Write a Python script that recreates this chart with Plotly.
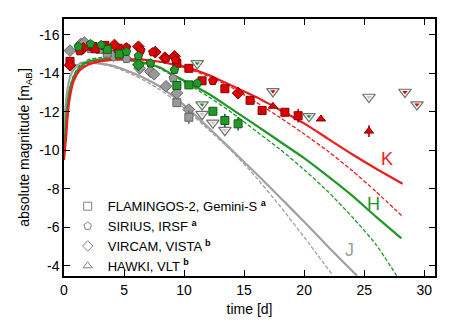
import plotly.graph_objects as go

# ---------------- data ----------------
# model curves (time [d], absolute magnitude)
K_solid_t = [0, 0.15, 0.35, 0.5, 0.8, 1.3, 2, 3, 4, 5, 6, 7, 8, 9, 10, 12, 14, 16, 18, 20, 22, 24, 26, 28.2]
K_solid_m = [-9.5, -10.5, -12.1, -12.8, -13.6, -14.15, -14.45, -14.62, -14.7, -14.72, -14.72, -14.68, -14.6, -14.48, -14.35, -13.93, -13.35, -12.77, -12.1, -11.4, -10.6, -9.8, -9.05, -8.27]
K_dash_t = [0, 0.15, 0.35, 0.5, 0.8, 1.3, 2, 3, 4, 5, 6, 7, 8, 9, 10, 12, 14, 16, 18, 20, 22, 24, 26, 28.2]
K_dash_m = [-9.5, -10.6, -12.2, -12.9, -13.7, -14.2, -14.5, -14.68, -14.75, -14.77, -14.76, -14.7, -14.6, -14.47, -14.3, -13.85, -13.25, -12.5, -11.7, -10.85, -9.95, -8.95, -7.85, -6.57]
H_solid_t = [0, 0.15, 0.3, 0.5, 0.8, 1.3, 2, 3, 4, 5, 6, 7, 8, 9, 10, 12, 14, 16, 18, 20, 22, 24, 26, 28.1]
H_solid_m = [-10.0, -11.3, -12.4, -13.2, -13.8, -14.3, -14.6, -14.72, -14.75, -14.72, -14.62, -14.5, -14.3, -13.95, -13.62, -12.95, -12.13, -11.3, -10.45, -9.6, -8.65, -7.65, -6.55, -5.43]
H_dash_t = [0, 0.15, 0.3, 0.5, 0.8, 1.3, 2, 3, 4, 5, 6, 7, 8, 9, 10, 12, 14, 16, 18, 20, 22, 24, 26, 27.7]
H_dash_m = [-10.0, -11.3, -12.5, -13.3, -13.9, -14.4, -14.7, -14.82, -14.85, -14.8, -14.68, -14.5, -14.25, -13.9, -13.55, -12.8, -11.95, -11.0, -10.05, -9.0, -7.85, -6.55, -5.1, -3.5]
J_solid_t = [0, 0.15, 0.3, 0.5, 0.8, 1.3, 2, 3, 4, 5, 6, 7, 8, 9, 10, 12, 14, 16, 18, 20, 22, 24.4]
J_solid_m = [-11.0, -12.4, -13.2, -13.8, -14.2, -14.48, -14.55, -14.5, -14.4, -14.2, -13.95, -13.65, -13.3, -12.85, -12.35, -11.2, -10.0, -8.8, -7.55, -6.3, -5.0, -3.5]
J_dash_t = [0, 0.15, 0.3, 0.5, 0.8, 1.3, 2, 3, 4, 5, 6, 7, 8, 9, 10, 12, 14, 16, 18, 20, 22.4]
J_dash_m = [-11.0, -12.5, -13.3, -13.9, -14.3, -14.55, -14.6, -14.5, -14.35, -14.12, -13.85, -13.52, -13.15, -12.7, -12.2, -11.1, -9.95, -8.6, -7.1, -5.5, -3.5]

# FLAMINGOS-2, Gemini-S (squares)
f2_J_t = [2.3, 3.0, 3.6, 9.4, 10.4]
f2_J_m = [-15.28, -15.24, -15.04, -12.48, -11.72]
f2_J_e = [0, 0, 0, 0.2, 0.35]
f2_H_t = [3.6, 4.6, 9.4, 10.4, 12.4, 13.4, 14.5]
f2_H_m = [-15.25, -15.0, -13.37, -13.4, -12.03, -11.55, -11.38]
f2_H_e = [0, 0, 0, 0, 0, 0.35, 0.35]
f2_K_t = [0.5, 2.4, 2.6, 3.4, 4.5, 9.4, 10.4, 11.5, 13.4, 15.5, 16.5, 18.4, 19.5]
f2_K_m = [-14.62, -15.4, -15.28, -15.45, -15.3, -14.52, -14.26, -13.61, -13.2, -12.6, -12.07, -11.98, -11.8]
f2_K_e = [0, 0, 0, 0, 0, 0, 0, 0, 0, 0, 0, 0, 0.35]
# SIRIUS, IRSF (pentagons)
sir_J_t = [5.2, 9.1]
sir_J_m = [-14.75, -13.74]
sir_H_t = [1.2, 2.2, 3.1, 5.2, 6.2, 7.2, 9.2, 11.1]
sir_H_m = [-15.38, -15.52, -15.47, -15.12, -14.9, -14.52, -14.18, -13.49]
sir_K_t = [1.3, 5.2, 6.4, 7.4, 8.5, 9.3, 12.4]
sir_K_m = [-15.15, -15.35, -15.2, -15.1, -14.78, -14.68, -13.61]
# VIRCAM, VISTA (diamonds)
vir_J_t = [0.5, 1.4, 1.7, 4.1, 6.3, 7.2, 7.5, 8.5, 9.4, 10.4]
vir_J_m = [-15.18, -15.52, -15.6, -14.92, -14.26, -14.09, -13.95, -13.33, -12.97, -12.12]
vir_H_t = [6.2]
vir_H_m = [-14.44]
vir_K_t = [0.5, 1.6, 4.2, 6.2, 7.6, 8.4, 9.2, 14.5]
vir_K_m = [-14.42, -15.3, -15.47, -15.38, -15.1, -14.81, -14.88, -12.97]
# HAWKI, VLT (triangles)
haw_K_t = [17.4, 21.4, 25.4]
haw_K_m = [-12.29, -11.63, -11.0]
haw_K_e = [0, 0, 0.3]
# upper limits
ul_t = [11.1, 11.5, 11.5, 12.4, 13.4, 17.4, 20.4, 25.4, 28.4, 29.4]
ul_m = [-14.52, -12.38, -11.88, -11.43, -11.05, -13.06, -11.77, -12.77, -13.03, -12.38]
ul_band = ["H", "H", "J", "J", "J", "K", "H", "J", "K", "K"]

legend_names = ["FLAMINGOS-2, Gemini-S <b><sup>a</sup></b>", "SIRIUS, IRSF <b><sup>a</sup></b>",
                "VIRCAM, VISTA <b><sup>b</sup></b>", "HAWKI, VLT <b><sup>b</sup></b>"]
x_ticks = [0, 5, 10, 15, 20, 25, 30]
y_ticks = [-16, -14, -12, -10, -8, -6, -4]
y_ticktext = ["-16", "-14", "-12", "-10", "-8", "-6", "-4"]

# ---------------- styles ----------------
line_col = {"K": "#ee1c1c", "H": "#23962a", "J": "#a0a0a0"}
fill_col = {"K": "#dd0000", "H": "#22992a", "J": "#999999"}
edge_col = {"K": "#880000", "H": "#0d5a12", "J": "#666666"}

fig = go.Figure()

for t, m, band, dash, w in [
    (J_dash_t, J_dash_m, "J", "dash", 1.3), (J_solid_t, J_solid_m, "J", "solid", 2.2),
    (H_dash_t, H_dash_m, "H", "dash", 1.3), (H_solid_t, H_solid_m, "H", "solid", 2.2),
    (K_dash_t, K_dash_m, "K", "dash", 1.3), (K_solid_t, K_solid_m, "K", "solid", 2.2)]:
    fig.add_trace(go.Scatter(x=t, y=m, mode="lines", showlegend=False, hoverinfo="skip",
                             line=dict(color=line_col[band], width=w, dash=("4px,2px" if dash == "dash" else "solid"),
                                       shape="spline", smoothing=0.6)))

def pts(t, m, band, symbol, size, err=None):
    kw = {}
    if err is not None:
        kw["error_y"] = dict(type="data", array=err, symmetric=True, color=edge_col[band], thickness=1.5, width=0)
    fig.add_trace(go.Scatter(x=t, y=m, mode="markers", showlegend=False,
                             marker=dict(symbol=symbol, size=size, color=fill_col[band],
                                         line=dict(color=edge_col[band], width=1)), **kw))

pts(vir_J_t, vir_J_m, "J", "diamond", 9)
pts(f2_J_t, f2_J_m, "J", "square", 8, f2_J_e)
pts(sir_J_t, sir_J_m, "J", "pentagon", 9)
pts(f2_K_t, f2_K_m, "K", "square", 8, f2_K_e)
pts(vir_K_t, vir_K_m, "K", "diamond", 9)
pts(sir_K_t, sir_K_m, "K", "pentagon", 9)
pts(haw_K_t, haw_K_m, "K", "triangle-up", 8, haw_K_e)
pts(f2_H_t, f2_H_m, "H", "square", 8, f2_H_e)
pts(vir_H_t, vir_H_m, "H", "diamond", 9)
pts(sir_H_t, sir_H_m, "H", "pentagon", 9)

# upper limits
fig.add_trace(go.Scatter(x=ul_t, y=ul_m, mode="markers", showlegend=False,
                         marker=dict(symbol="triangle-down", size=11, color="#f2f2f2",
                                     line=dict(color="#707070", width=1.2))))
fig.add_trace(go.Scatter(x=ul_t, y=ul_m, mode="markers", showlegend=False,
                         marker=dict(symbol="triangle-down", size=4.5,
                                     color=[fill_col[b] if b != "J" else "#c8c8c8" for b in ul_band],
                                     line=dict(width=0))))

# legend entries
for name, sym in zip(legend_names, ["square-open", "pentagon-open", "diamond-open", "triangle-up-open"]):
    fig.add_trace(go.Scatter(x=[None], y=[None], mode="markers", name=name,
                             marker=dict(symbol=sym, size=8, color="#808080", line=dict(width=1))))

for txt, t, m, band in [("K", 26.9, -9.56, "K"), ("H", 25.75, -7.24, "H"), ("J", 23.8, -4.81, "J")]:
    fig.add_annotation(x=t, y=m, text=txt, showarrow=False,
                       font=dict(size=18, color=line_col[band], family="Liberation Sans, Arial"))

axis_common = dict(showline=True, linecolor="black", linewidth=1.5, mirror="allticks",
                   ticks="inside", ticklen=6, tickwidth=1.2, tickcolor="black",
                   showgrid=False, zeroline=False,
                   tickfont=dict(size=14, color="black", family="Liberation Sans, Arial"))

# the page body has an 8px margin, so the figure is 8px smaller than the window
fig.update_layout(
    width=455, height=316,
    margin=dict(l=56, r=28, t=9, b=48),
    plot_bgcolor="white", paper_bgcolor="white",
    font=dict(family="Liberation Sans, Arial", color="black"),
    xaxis=dict(range=[0, 30.9], tickvals=x_ticks,
               title=dict(text="time [d]", font=dict(size=14), standoff=8), **axis_common),
    yaxis=dict(range=[-3.48, -16.82], tickvals=y_ticks, ticktext=y_ticktext,
               title=dict(text="absolute magnitude [m<sub>AB</sub>]", font=dict(size=14), standoff=6),
               **axis_common),
    legend=dict(x=0.01, y=0.33, xanchor="left", yanchor="top", bgcolor="rgba(0,0,0,0)",
                font=dict(size=13), tracegroupgap=0, itemwidth=30),
)

fig.write_html("out.html")
